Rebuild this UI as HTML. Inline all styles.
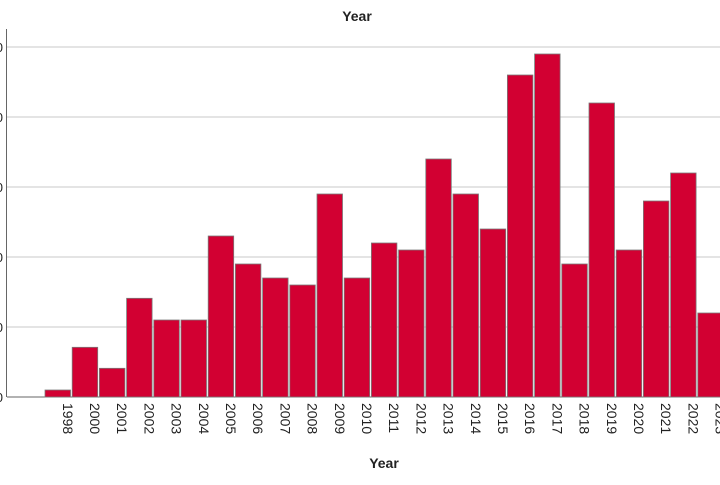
<!DOCTYPE html>
<html><head><meta charset="utf-8"><style>
body{margin:0;background:#fff;width:720px;height:480px;overflow:hidden;font-family:"Liberation Sans",sans-serif}
</style></head><body>
<svg id="chart" width="720" height="480" xmlns="http://www.w3.org/2000/svg">
<text x="357" y="21" text-anchor="middle" font-size="14" font-weight="bold" fill="#222">Year</text>
<text x="384" y="468" text-anchor="middle" font-size="14" font-weight="bold" fill="#222">Year</text>
<g id="grid"></g><g id="bars"></g><g id="xlabels"></g>
</svg>
<script>
const categories=["1998","2000","2001","2002","2003","2004","2005","2006","2007","2008","2009","2010","2011","2012","2013","2014","2015","2016","2017","2018","2019","2020","2021","2022","2023"];
const values=[1,7.1,4.1,14.1,11,11,23,19,17,16,29,17,22,21,34,29,24,46,49,19,42,21,28,32,12];
const yTicks=[0,10,20,30,40,50];
const NS="http://www.w3.org/2000/svg";
const y0=397,pxPerUnit=7,x0=45,step=27.2,bw=25.5;
const y=v=>y0-v*pxPerUnit;
const x=i=>x0+i*step;
function mk(t,a,p){const e=document.createElementNS(NS,t);for(const k in a)e.setAttribute(k,a[k]);p.appendChild(e);return e;}
const g=document.getElementById('grid');
yTicks.forEach(t=>{
 const l=mk('line',{x1:7,x2:720,y1:y(t),y2:y(t),stroke:t===0?'#666':'#c8c8c8','stroke-width':1},g);
 
 
 const tx=mk('text',{x:3,y:y(t)+5,'text-anchor':'end','font-size':13,fill:'#222'},g);
 tx.textContent=t;
 
 
});
const ax=mk('line',{x1:6.5,x2:6.5,y1:29,y2:397,stroke:'#666','stroke-width':1},g);


const b=document.getElementById('bars'),xl=document.getElementById('xlabels');
categories.forEach((c,i)=>{
 const r=mk('rect',{x:x(i),y:y(values[i]),width:bw,height:values[i]*pxPerUnit,fill:'#d20032',stroke:'#7a7a7a','stroke-width':0.8},b);
 
 
 const cx=x(i)+bw/2;
 const t=mk('text',{x:cx,y:403,'font-size':14,fill:'#222',transform:`rotate(90 ${cx} 403) translate(0 -5)`},xl);
 t.textContent=c;
 
 
});
</script>
</body></html>
